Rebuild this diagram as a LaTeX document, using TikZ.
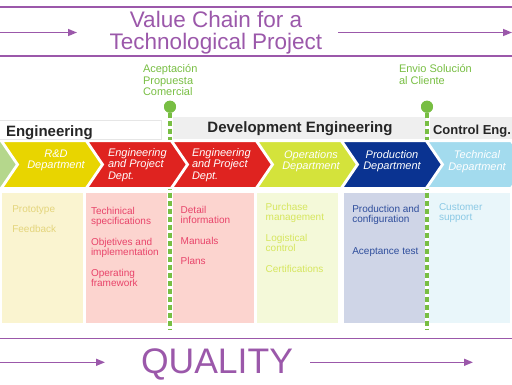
\documentclass[tikz,border=0pt]{standalone}
\usepackage{fontspec}
\setmainfont{Liberation Sans}
\usetikzlibrary{arrows.meta}
\definecolor{vpurple}{HTML}{9B58AA}
\definecolor{mgreen}{HTML}{78BE43}
\definecolor{hgray}{HTML}{EFEFEF}
\definecolor{hborder}{HTML}{E6E6E6}
\definecolor{htext}{HTML}{262626}
\definecolor{cyel}{HTML}{E8D500}
\definecolor{cred}{HTML}{DF2320}
\definecolor{clime}{HTML}{D4E33B}
\definecolor{cnavy}{HTML}{0A3391}
\definecolor{cblue}{HTML}{A3DBEE}
\definecolor{cstub}{HTML}{B5D78C}
\definecolor{pyel}{HTML}{FAF4D0}
\definecolor{pyelt}{HTML}{E4D57C}
\definecolor{ppink}{HTML}{FCD4CF}
\definecolor{ppinkt}{HTML}{E8446A}
\definecolor{plime}{HTML}{F4F9D9}
\definecolor{plimet}{HTML}{D6E65E}
\definecolor{pnavy}{HTML}{CFD5E7}
\definecolor{pnavyt}{HTML}{2E4D9C}
\definecolor{pblue}{HTML}{E9F6FA}
\definecolor{pbluet}{HTML}{8BC9E5}
\newcommand\mychev[2]{\fill[#2, draw=white, line width=2pt] (#1,141) -- ++(84,0) -- ++(16,23.5) -- ++(-16,23.5) -- ++(-84,0) -- ++(16,-23.5) -- cycle;}
\newcommand\mypanel[3]{\fill[#3] (#1,193) rectangle (#2,323);}
\begin{document}
\begin{tikzpicture}[x=1pt,y=-1pt,
  every node/.style={inner sep=0pt, outer sep=0pt},
  pline/.style={draw=vpurple, line width=1.2pt},
  parrow/.style={draw=vpurple, line width=1.5pt, -{Triangle[length=9pt,width=7pt]}},
  titletext/.style={text=vpurple, font=\fontsize{22.5}{22.5}\selectfont, anchor=base},
  htxt/.style={text=htext, font=\bfseries\fontsize{15}{15}\selectfont},
  ctext/.style={text=white, font=\itshape\fontsize{11}{11.7}\selectfont},
  ptext/.style={font=\fontsize{10}{12}\selectfont, anchor=base west},
  mtext/.style={text=mgreen, font=\fontsize{11}{11}\selectfont, anchor=base west},
  mdot/.style={circle, fill=mgreen, minimum size=12pt},
  mline/.style={draw=mgreen, line width=3.3pt, dash pattern=on 5pt off 3pt}]
\useasboundingbox (0,0) rectangle (512,384);
% top frame
\coordinate (tl1) at (0,7); \coordinate (tr1) at (512,7);
\coordinate (tl2) at (0,56); \coordinate (tr2) at (512,56);
\draw[pline] (tl1) -- (tr1);
\draw[pline] (tl2) -- (tr2);
\node[titletext] (title1) at (216,27) {Value Chain for a};
\node[titletext] (title2) at (216,49.5) {Technological Project};
\coordinate (a1s) at (0,32.5); \coordinate (a1e) at (77,32.5);
\coordinate (a2s) at (338,32.5); \coordinate (a2e) at (512,32.5);
\draw[parrow] (a1s) -- (a1e);
\draw[parrow] (a2s) -- (a2e);
% milestone labels
\node[mtext] (m1a) at (143,72.7) {Aceptación};
\node[mtext] (m1b) at (143,84.1) {Propuesta};
\node[mtext] (m1c) at (143,95.5) {Comercial};
\node[mtext] (m2a) at (399,72.9) {Envio Solución};
\node[mtext] (m2b) at (399,84.4) {al Cliente};
% header bands
\filldraw[fill=white, draw=hborder, line width=1.5pt] (-3,120.5) rectangle (161.5,140);
\fill[hgray] (173,117) rectangle (426,139);
\fill[hgray] (430,117) rectangle (514,139);
\node[htxt, anchor=base west] (h1) at (6,136.7) {Engineering};
\node[htxt, anchor=base] (h2) at (300,132.7) {Development Engineering};
\node[htxt, anchor=base west, font=\bfseries\fontsize{13}{13}\selectfont] (h3) at (433,134.3) {Control Eng.};
% milestones
\node[mdot] (d1) at (170,106.7) {};
\node[mdot] (d2) at (427,106.7) {};
\coordinate (e1) at (170,330);
\coordinate (e2) at (427,330);
\draw[mline] (d1) -- (e1);
\draw[mline] (d2) -- (e2);
\node[mdot] at (d1) {};
\node[mdot] at (d2) {};
% chevrons
\mychev{-83}{cstub}
\mychev{2}{cyel}
\mychev{87}{cred}
\mychev{172}{cred}
\mychev{257}{clime}
\mychev{342}{cnavy}
\mychev{427}{cblue}
\node[ctext, align=center] (c1) at (56,160.3) {R\&D\\Department};
\node[ctext, align=left, anchor=west] (c2) at (108,165) {Engineering\\and Project\\Dept.};
\node[ctext, align=left, anchor=west] (c3) at (192,165) {Engineering\\and Project\\Dept.};
\node[ctext, align=center] (c4) at (311,161) {Operations\\Department};
\node[ctext, align=center] (c5) at (392,161) {Production\\Department};
\node[ctext, align=center] (c6) at (477,161.5) {Technical\\Department};
% panels
\mypanel{2}{83}{pyel}
\mypanel{86}{167}{ppink}
\mypanel{173}{254}{ppink}
\mypanel{257}{338}{plime}
\mypanel{344}{425}{pnavy}
\mypanel{429}{510}{pblue}
\node[ptext, text=pyelt] (p1a) at (12.3,212.7) {Prototype};
\node[ptext, text=pyelt] (p1b) at (12.3,232.9) {Feedback};
\node[ptext, text=ppinkt] (p2a) at (91,214.3) {Techinical};
\node[ptext, text=ppinkt] (p2b) at (91,224.8) {specifications};
\node[ptext, text=ppinkt] (p2c) at (91,245.2) {Objetives and};
\node[ptext, text=ppinkt] (p2d) at (91,255.7) {implementation};
\node[ptext, text=ppinkt] (p2e) at (91,276.2) {Operating};
\node[ptext, text=ppinkt] (p2f) at (91,286.7) {framework};
\node[ptext, text=ppinkt] (p3a) at (180.7,213) {Detail};
\node[ptext, text=ppinkt] (p3b) at (180.7,223.5) {information};
\node[ptext, text=ppinkt] (p3c) at (180.7,244.3) {Manuals};
\node[ptext, text=ppinkt] (p3d) at (180.7,264.7) {Plans};
\node[ptext, text=plimet] (p4a) at (265.7,210.3) {Purchase};
\node[ptext, text=plimet] (p4b) at (265.7,220.8) {management};
\node[ptext, text=plimet] (p4c) at (265.7,241.3) {Logistical};
\node[ptext, text=plimet] (p4d) at (265.7,251.8) {control};
\node[ptext, text=plimet] (p4e) at (265.7,272.9) {Certifications};
\node[ptext, text=pnavyt] (p5a) at (352.3,212) {Production and};
\node[ptext, text=pnavyt] (p5b) at (352.3,222.5) {configuration};
\node[ptext, text=pnavyt] (p5c) at (352.3,254.3) {Aceptance test};
\node[ptext, text=pbluet] (p6a) at (439,210.3) {Customer};
\node[ptext, text=pbluet] (p6b) at (439,220.8) {support};
% bottom frame
\coordinate (bl) at (0,338.3); \coordinate (br) at (512,338.3);
\draw[pline] (bl) -- (br);
\node[text=vpurple, font=\fontsize{35.5}{35.5}\selectfont, anchor=base] (quality) at (217,373.3) {QUALITY};
\coordinate (b1s) at (0,362.3); \coordinate (b1e) at (105,362.3);
\coordinate (b2s) at (310,362.3); \coordinate (b2e) at (473,362.3);
\draw[parrow] (b1s) -- (b1e);
\draw[parrow] (b2s) -- (b2e);
\end{tikzpicture}
\end{document}
